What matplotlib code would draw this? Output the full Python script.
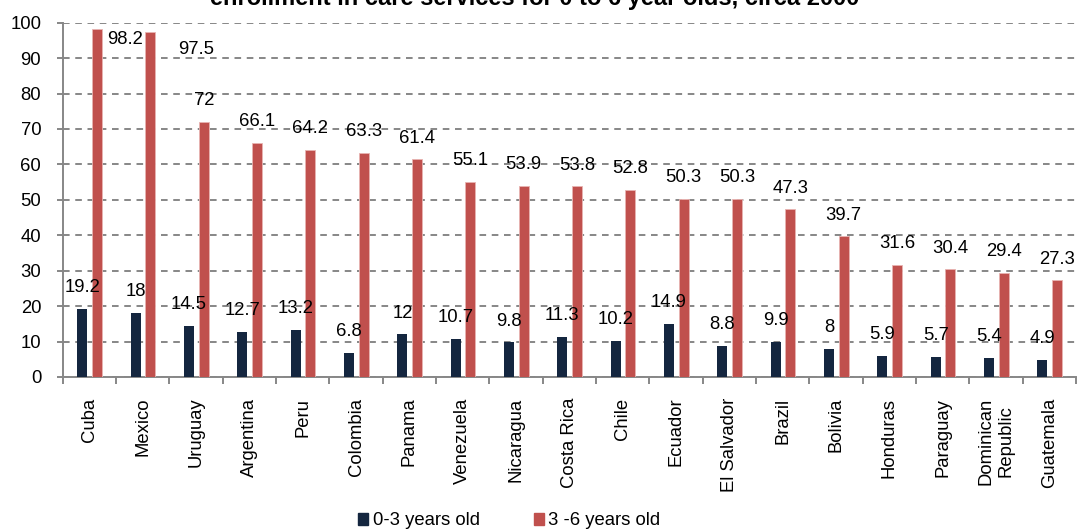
import matplotlib
matplotlib.use("Agg")
import matplotlib.pyplot as plt
import numpy as np

plt.rcParams['font.family'] = ['Liberation Sans', 'DejaVu Sans']

countries = ["Cuba", "Mexico", "Uruguay", "Argentina", "Peru", "Colombia", "Panama",
             "Venezuela", "Nicaragua", "Costa Rica", "Chile", "Ecuador", "El Salvador",
             "Brazil", "Bolivia", "Honduras", "Paraguay", "Dominican\nRepublic", "Guatemala"]
age_0_3 = [19.2, 18, 14.5, 12.7, 13.2, 6.8, 12, 10.7, 9.8, 11.3, 10.2, 14.9, 8.8,
           9.9, 8, 5.9, 5.7, 5.4, 4.9]
age_3_6 = [98.2, 97.5, 72, 66.1, 64.2, 63.3, 61.4, 55.1, 53.9, 53.8, 52.8, 50.3, 50.3,
           47.3, 39.7, 31.6, 30.4, 29.4, 27.3]

dark = "#14263f"
red = "#c0504d"
grey = "#878787"
fs = 13.3

fig = plt.figure(figsize=(10.77, 5.32), dpi=100)
ax = fig.add_axes([0.0582, 0.2914, 0.9409, 0.6659])

x = np.arange(len(countries))
w = 0.19
ax.bar(x - 0.131, age_0_3, w, color=dark, zorder=3)
ax.bar(x + 0.144, age_3_6, w, color=red, edgecolor="#e8b4b2", linewidth=0.6, zorder=3)

# value labels sit a bit above the bars
for i, v in enumerate(age_0_3):
    ax.text(x[i] - 0.131, v + 6, f"{v:g}", ha="center", va="center", fontsize=fs, zorder=4)
# Excel pushed the two tallest labels down and sideways
nudge = {0: (0.52, 95.4), 1: (0.86, 92.4)}
for i, v in enumerate(age_3_6):
    if i in nudge:
        dx, yy = nudge[i]
        ax.text(x[i] + 0.144 + dx, yy, f"{v:g}", ha="center", va="center", fontsize=fs, zorder=4)
    else:
        ax.text(x[i] + 0.144, v + 6, f"{v:g}", ha="center", va="center", fontsize=fs, zorder=4)

ax.set_xlim(-0.5, len(countries) - 0.5)
ax.set_ylim(0, 100)
ax.set_yticks(range(0, 101, 10))
ax.yaxis.grid(True, color=grey, linestyle=(0, (3.4, 2.9)), linewidth=1.4, zorder=0)
ax.set_axisbelow(True)

ax.set_xticks(np.arange(-0.5, len(countries), 1), minor=False)
ax.set_xticklabels([])
ax.set_xticks(x, minor=True)
ax.set_xticklabels(countries, minor=True, rotation=90, ha="center", va="top",
                   multialignment="center", fontsize=fs)
ax.tick_params(axis="x", which="major", length=5, width=1.4, color=grey, direction="out")
ax.tick_params(axis="x", which="minor", length=0, pad=15)
ax.tick_params(axis="y", length=4.5, width=1.4, color=grey, pad=11, labelsize=fs)

for s in ["top", "right"]:
    ax.spines[s].set_visible(False)
for s in ["left", "bottom"]:
    ax.spines[s].set_color(grey)
    ax.spines[s].set_linewidth(1.4)

fig.text(0.496, 0.9906, "enrollment in care services for 0 to 6 year olds, circa 2000",
         ha="center", va="baseline", fontsize=17, fontweight="bold")

h1 = plt.Rectangle((0, 0), 1, 1, color=dark)
h2 = plt.Rectangle((0, 0), 1, 1, color=red)
fig.legend([h1, h2], ["0-3 years old", "3 -6 years old"], loc="center",
           bbox_to_anchor=(0.473, 0.0207), ncol=2, frameon=False, fontsize=fs,
           handlelength=0.55, handleheight=0.55, handletextpad=0.25, columnspacing=2.9)

fig.savefig("out.png", dpi=100)
